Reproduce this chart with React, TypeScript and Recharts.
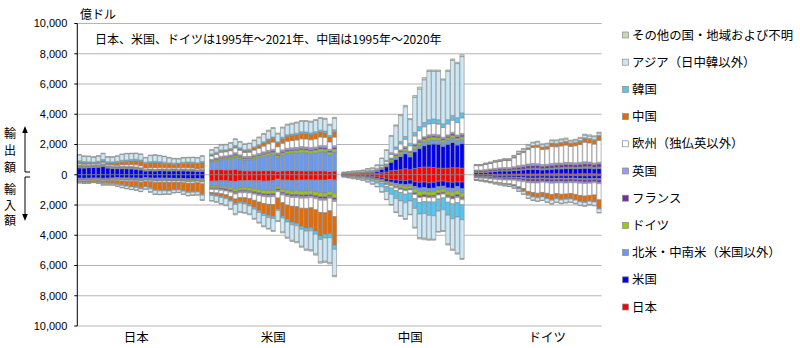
import React from 'react';
import { BarChart, Bar, XAxis, YAxis, CartesianGrid } from 'recharts';

// ---------- categories ----------
const years1995to2021 = [1995,1996,1997,1998,1999,2000,2001,2002,2003,2004,2005,2006,2007,2008,2009,2010,2011,2012,2013,2014,2015,2016,2017,2018,2019,2020,2021];
const years1995to2020 = [1995,1996,1997,1998,1999,2000,2001,2002,2003,2004,2005,2006,2007,2008,2009,2010,2011,2012,2013,2014,2015,2016,2017,2018,2019,2020];

const partnerKeys = ['jp','us','na','de','fr','uk','eu','cn','kr','as','ot'];
const partnerNames = ['日本','米国','北米・中南米（米国以外）','ドイツ','フランス','英国','欧州（独仏英以外）','中国','韓国','アジア（日中韓以外）','その他の国・地域および不明'];
const partnerColors = ['#ff0000','#0000ee','#6a9af0','#99cc00','#7030a0','#9a9af0','#ffffff','#e36c0a','#55c6f2','#cce8f6','#c8d8b4'];

const yTicks = [-10000,-8000,-6000,-4000,-2000,0,2000,4000,6000,8000,10000];
const titleText = '日本、米国、ドイツは1995年～2021年、中国は1995年～2020年';
const unitText = '億ドル';

// ---------- Japan (億ドル) ----------
const jpEx_us = [450,440,470,480,500,540,440,420,400,400,400,390,360,320,240,260,250,270,260,250,260,260,260,250,240,220,230];
const jpEx_na = [70,60,60,60,60,70,60,55,50,55,60,65,65,60,45,50,50,55,55,55,60,55,55,55,55,45,55];
const jpEx_de = [60,55,50,45,50,55,45,45,45,50,45,45,45,40,30,30,35,30,30,30,25,25,30,30,30,25,30];
const jpEx_fr = [20,20,18,18,18,20,18,16,16,18,16,16,16,15,12,12,12,12,12,12,10,10,12,12,12,10,12];
const jpEx_uk = [40,40,38,38,38,40,35,30,30,32,30,30,30,25,20,20,20,20,20,20,20,20,20,20,20,18,20];
const jpEx_eu = [90,85,80,80,85,100,85,85,95,110,115,125,140,140,100,100,110,100,95,90,85,90,95,100,95,85,90];
const jpEx_cn = [90,80,75,65,70,90,95,120,160,190,210,240,270,290,300,300,320,290,280,260,240,250,280,300,310,330,360];
const jpEx_kr = [100,90,70,50,70,90,80,85,90,100,100,100,100,90,80,90,90,85,80,70,65,65,70,70,70,65,75];
const jpEx_as = [390,350,350,330,344,390,320,314,340,388,414,389,380,368,298,404,404,394,368,328,290,274,288,288,304,314,356];
const jpEx_ot = [30,30,29,24,25,35,22,20,24,27,30,30,34,32,25,34,39,34,30,35,35,31,40,35,34,38,32];

const jpIm_us = [230,240,230,220,220,240,230,210,200,210,210,220,220,240,200,220,230,220,220,230,240,240,250,270,270,250,270];
const jpIm_na = [45,45,45,40,40,45,45,45,50,55,60,60,65,75,60,70,80,80,80,80,70,65,70,75,75,70,90];
const jpIm_de = [40,45,40,35,35,40,40,40,45,50,50,50,50,55,50,55,60,60,60,60,55,60,65,70,70,65,75];
const jpIm_fr = [20,20,20,18,20,20,20,20,22,22,22,22,22,25,22,25,28,28,28,28,25,28,30,30,30,28,30];
const jpIm_uk = [15,15,14,13,14,15,14,14,15,16,16,16,16,18,15,16,18,18,18,18,16,16,18,18,18,16,18];
const jpIm_eu = [45,50,50,45,50,55,55,55,60,65,70,70,75,80,75,80,90,95,95,95,90,95,100,105,105,100,120];
const jpIm_cn = [60,70,80,80,95,120,140,170,200,240,280,310,340,370,330,400,470,500,500,500,470,460,500,540,530,560,680];
const jpIm_kr = [40,40,35,30,35,45,40,40,45,55,55,55,55,60,50,60,65,65,60,60,50,50,55,60,55,55,70];
const jpIm_as = [40,40,40,35,55,90,85,85,110,135,150,170,170,180,150,210,240,235,220,210,170,150,190,210,190,190,310];
const jpIm_ot = [15,15,14,10,16,20,16,11,13,12,17,17,17,17,8,14,19,19,19,19,14,16,22,22,17,16,37];

// ---------- United States ----------
const usEx_jp = [330,340,340,310,320,350,300,260,250,260,260,270,270,270,230,260,270,280,270,260,250,250,250,260,250,220,240];
const usEx_na = [510,570,660,700,740,820,760,710,730,800,880,950,1010,1070,900,1060,1130,1160,1180,1230,1210,1170,1200,1260,1250,1090,1260];
const usEx_de = [70,75,85,90,95,110,100,90,90,100,110,120,140,150,130,140,150,150,160,170,170,170,180,190,190,170,200];
const usEx_fr = [45,50,55,60,60,70,65,55,55,60,60,65,75,80,75,75,80,80,80,85,85,85,90,100,100,90,100];
const usEx_uk = [70,75,85,90,95,110,100,90,90,100,100,110,120,120,110,110,120,120,120,120,120,120,120,130,130,110,120];
const usEx_eu = [210,230,260,270,280,310,290,270,280,310,340,380,430,470,410,440,470,470,490,510,530,520,530,560,560,490,570];
const usEx_cn = [65,70,75,80,80,90,100,110,130,150,170,200,230,250,250,300,330,330,350,360,350,340,360,330,290,320,360];
const usEx_kr = [80,85,80,50,60,75,70,65,65,70,70,80,85,85,70,95,100,100,100,110,110,110,120,120,120,110,120];
const usEx_as = [250,290,330,330,360,400,380,360,370,410,460,500,530,570,530,620,640,670,680,680,700,720,740,780,790,690,760];
const usEx_ot = [30,35,40,40,40,45,40,40,40,45,50,55,60,60,55,60,60,60,60,60,60,60,60,60,60,60,70];

const usIm_jp = [420,410,400,400,420,450,400,390,380,390,400,420,410,390,290,350,350,380,360,350,340,340,350,360,360,320,340];
const usIm_na = [330,340,370,390,430,500,470,470,490,540,590,620,640,650,500,620,680,700,700,740,730,720,770,830,840,780,900];
const usIm_de = [110,115,125,140,150,160,160,170,180,190,200,210,220,210,160,190,220,230,240,250,260,240,250,260,260,250,290];
const usIm_fr = [55,60,65,70,75,80,80,75,75,80,85,90,95,95,80,90,95,95,100,105,105,105,110,120,120,100,130];
const usIm_uk = [60,65,70,75,80,90,85,85,85,90,90,95,100,105,90,95,100,100,100,110,110,105,110,115,110,100,110];
const usIm_eu = [200,210,230,250,290,320,320,330,360,400,440,470,490,520,420,500,560,580,610,660,680,680,730,810,830,830,1000];
const usIm_cn = [130,150,170,190,220,260,270,320,380,460,560,660,730,780,720,880,960,1050,1100,1200,1300,1320,1400,1550,1420,1520,1870];
const usIm_kr = [70,70,70,70,85,110,100,100,110,130,130,130,140,140,110,140,160,170,170,190,200,200,210,230,240,260,290];
const usIm_as = [340,370,410,420,500,620,560,560,540,610,650,700,720,800,680,920,1010,1030,1050,1120,1200,1260,1310,1490,1540,1660,1740];
const usIm_ot = [25,30,40,45,50,60,55,50,50,60,55,55,55,60,50,65,75,75,70,75,75,80,80,85,80,80,80];

// ---------- China (1995-2020) ----------
const cnEx_jp = [45,50,55,55,60,75,80,100,140,190,260,300,330,400,330,420,480,520,510,480,440,430,440,470,460,440];
const cnEx_us = [30,35,45,50,60,80,90,130,220,340,560,720,880,990,850,1100,1250,1400,1500,1550,1580,1460,1570,1660,1500,1620];
const cnEx_na = [5,6,8,9,10,15,16,25,40,60,90,120,150,180,150,200,230,250,260,270,270,260,280,300,300,290];
const cnEx_de = [8,9,11,12,14,18,20,28,45,65,100,120,140,150,120,160,170,170,180,180,160,150,160,170,160,160];
const cnEx_fr = [4,5,6,6,7,9,10,13,20,30,45,55,65,70,60,80,90,90,90,90,90,80,90,100,100,110];
const cnEx_uk = [4,5,6,7,8,10,12,15,25,35,55,70,80,80,60,80,90,90,100,110,110,100,100,110,110,110];
const cnEx_eu = [14,16,20,22,26,35,40,55,100,150,230,300,390,480,350,520,600,650,720,720,700,640,720,800,820,1030];
const cnEx_kr = [10,12,14,14,16,22,25,35,60,80,120,150,170,180,150,240,270,280,280,290,290,250,280,300,320,330];
const cnEx_as = [45,57,68,78,89,124,145,234,430,670,1090,1400,1700,1970,1580,2320,2480,2830,3200,3150,3200,2900,3200,3650,3580,3720];
const cnEx_ot = [5,5,7,7,10,12,12,15,20,30,50,65,75,90,70,120,140,140,90,90,90,70,90,100,90,130];

const cnIm_jp = [40,50,60,70,80,100,120,150,210,280,310,350,370,380,350,450,500,480,530,500,430,420,480,500,480,480];
const cnIm_us = [20,25,35,40,50,60,80,95,120,160,180,220,250,280,270,330,370,360,380,390,370,340,390,400,300,440];
const cnIm_na = [5,7,10,12,15,20,25,30,40,60,70,90,110,130,130,180,230,240,230,230,200,190,230,250,270,300];
const cnIm_de = [10,14,17,20,25,35,45,55,80,100,110,130,150,170,160,230,270,250,230,240,210,200,250,270,270,260];
const cnIm_fr = [5,7,8,10,12,15,18,22,30,40,45,55,65,70,65,80,100,100,100,100,90,90,110,120,120,110];
const cnIm_uk = [4,5,6,6,7,8,9,11,14,17,19,22,25,28,26,35,40,40,44,50,45,40,50,60,65,66];
const cnIm_eu = [10,14,18,22,28,38,50,65,90,120,150,180,200,230,210,280,330,310,290,300,260,250,310,330,340,330];
const cnIm_kr = [20,27,35,40,53,70,90,130,210,330,410,520,560,570,520,640,760,780,880,900,800,780,850,980,950,990];
const cnIm_as = [31,46,66,74,92,122,170,226,336,520,680,900,980,1050,890,1250,1560,1640,1580,1560,1350,1390,1910,2020,2390,2560];
const cnIm_ot = [5,5,5,6,8,12,13,16,20,23,26,33,40,42,29,55,90,100,66,60,45,50,70,70,65,64];

// ---------- Germany ----------
const deEx_jp = [40,40,40,35,35,40,40,40,45,50,50,55,55,55,50,60,65,65,60,60,55,55,60,65,65,60,55];
const deEx_us = [110,110,130,150,180,200,210,210,230,250,270,300,310,300,270,280,300,320,330,350,360,350,360,370,360,340,360];
const deEx_na = [30,30,35,40,40,45,45,45,50,55,60,65,70,75,70,75,80,85,85,90,90,90,95,100,100,95,100];
const deEx_fr = [80,80,90,95,100,100,105,100,120,140,150,170,180,180,170,170,180,180,180,190,170,170,180,190,190,170,200];
const deEx_uk = [50,50,60,65,70,75,80,80,90,110,115,125,130,125,110,110,120,120,120,130,130,130,130,130,120,110,110];
const deEx_eu = [290,290,330,360,410,420,460,460,580,730,820,950,1050,1090,1000,1000,1120,1080,1130,1140,1070,1120,1170,1300,1270,1250,1450];
const deEx_cn = [20,20,25,25,25,30,35,40,50,65,70,90,100,110,130,160,190,190,200,210,190,200,220,240,240,260,280];
const deEx_kr = [15,15,15,12,14,16,16,17,20,25,27,30,35,35,30,35,40,40,40,40,40,40,45,50,50,50,50];
const deEx_as = [35,35,35,40,50,45,50,50,70,110,125,170,180,200,160,150,160,170,170,160,130,140,150,170,160,180,150];
const deEx_ot = [10,10,10,18,26,19,19,18,25,35,43,55,50,55,60,50,55,60,65,60,55,55,60,75,85,65,65];

const deIm_jp = [30,35,40,40,45,50,50,50,55,60,70,80,80,80,70,80,80,75,70,70,60,65,70,75,70,65,70];
const deIm_us = [70,75,80,90,100,110,110,110,110,120,130,150,150,150,140,150,160,160,160,170,170,170,180,190,190,180,200];
const deIm_na = [15,17,20,20,25,25,30,30,30,35,40,50,50,55,50,55,60,55,55,55,55,55,60,65,60,60,70];
const deIm_fr = [55,60,65,70,75,80,85,90,100,120,130,150,160,160,150,160,170,160,160,160,150,150,160,160,160,150,180];
const deIm_uk = [40,45,50,55,60,65,70,70,75,85,90,100,100,100,80,85,95,90,90,90,90,90,90,90,85,80,70];
const deIm_eu = [110,125,145,165,190,200,230,250,290,370,450,570,640,680,680,700,740,700,760,730,720,770,820,830,800,800,1070];
const deIm_cn = [12,15,20,25,30,40,50,60,80,120,170,220,250,260,260,310,330,310,320,310,320,330,360,370,350,420,560];
const deIm_kr = [8,9,10,10,12,15,15,15,20,25,30,35,40,40,40,40,45,40,45,40,40,45,50,50,45,45,50];
const deIm_as = [30,32,40,50,65,80,90,100,120,150,170,200,210,220,220,230,240,225,235,220,210,230,230,230,220,230,230];
const deIm_ot = [5,5,6,7,8,10,10,10,12,14,16,18,20,20,18,20,22,20,22,20,20,22,24,25,24,24,30];

// ---------- assemble table ----------
type SeriesMap = Record<string, number[]>;
const reporters: { name: string; start: number; labelAt: number; years: number[]; exp: SeriesMap; imp: SeriesMap }[] = [
  { name: '日本', start: 0, labelAt: 12, years: years1995to2021,
    exp: { us: jpEx_us, na: jpEx_na, de: jpEx_de, fr: jpEx_fr, uk: jpEx_uk, eu: jpEx_eu, cn: jpEx_cn, kr: jpEx_kr, as: jpEx_as, ot: jpEx_ot },
    imp: { us: jpIm_us, na: jpIm_na, de: jpIm_de, fr: jpIm_fr, uk: jpIm_uk, eu: jpIm_eu, cn: jpIm_cn, kr: jpIm_kr, as: jpIm_as, ot: jpIm_ot } },
  { name: '米国', start: 28, labelAt: 13, years: years1995to2021,
    exp: { jp: usEx_jp, na: usEx_na, de: usEx_de, fr: usEx_fr, uk: usEx_uk, eu: usEx_eu, cn: usEx_cn, kr: usEx_kr, as: usEx_as, ot: usEx_ot },
    imp: { jp: usIm_jp, na: usIm_na, de: usIm_de, fr: usIm_fr, uk: usIm_uk, eu: usIm_eu, cn: usIm_cn, kr: usIm_kr, as: usIm_as, ot: usIm_ot } },
  { name: '中国', start: 56, labelAt: 14, years: years1995to2020,
    exp: { jp: cnEx_jp, us: cnEx_us, na: cnEx_na, de: cnEx_de, fr: cnEx_fr, uk: cnEx_uk, eu: cnEx_eu, kr: cnEx_kr, as: cnEx_as, ot: cnEx_ot },
    imp: { jp: cnIm_jp, us: cnIm_us, na: cnIm_na, de: cnIm_de, fr: cnIm_fr, uk: cnIm_uk, eu: cnIm_eu, kr: cnIm_kr, as: cnIm_as, ot: cnIm_ot } },
  { name: 'ドイツ', start: 84, labelAt: 15, years: years1995to2021,
    exp: { jp: deEx_jp, us: deEx_us, na: deEx_na, fr: deEx_fr, uk: deEx_uk, eu: deEx_eu, cn: deEx_cn, kr: deEx_kr, as: deEx_as, ot: deEx_ot },
    imp: { jp: deIm_jp, us: deIm_us, na: deIm_na, fr: deIm_fr, uk: deIm_uk, eu: deIm_eu, cn: deIm_cn, kr: deIm_kr, as: deIm_as, ot: deIm_ot } },
];

const SLOT_COUNT = 111;
const rows: Record<string, any>[] = Array.from({ length: SLOT_COUNT }, (_, i) => ({ k: 's' + i }));
const slotLabels: Record<string, string> = {};
reporters.forEach((r) => {
  slotLabels['s' + (r.start + r.labelAt)] = r.name;
  r.years.forEach((yr, y) => {
    const row = rows[r.start + y];
    row.year = yr;
    row.reporter = r.name;
    partnerKeys.forEach((p) => {
      if (r.exp[p]) row['e_' + p] = r.exp[p][y];
      if (r.imp[p]) row['i_' + p] = -r.imp[p][y];
    });
  });
});

// ---------- layout ----------
const W = 800;
const H = 348;
const PLOT_LEFT = 77.3;
const PLOT_RIGHT = 601.6;
const PLOT_TOP = 23.5;
const PLOT_BOTTOM = 326;
const BAND = (PLOT_RIGHT - PLOT_LEFT) / SLOT_COUNT;
const CJK = '"Noto Sans CJK JP", "Noto Sans CJK SC", sans-serif';
const LATIN = '"Liberation Sans", Arial, sans-serif';

const fmtY = (v: number) => Math.abs(v).toLocaleString('en-US');

const CategoryTick = (props: any) => {
  const { x, y, payload } = props;
  const label = slotLabels[payload?.value];
  if (!label) return <g />;
  return (
    <text x={x} y={y + 14} textAnchor="middle" fontSize={12.5} fontFamily={CJK} fill="#000">
      {label}
    </text>
  );
};

const legendOrder = [10, 9, 8, 7, 6, 5, 4, 3, 2, 1, 0];

export default function App() {
  return (
    <div style={{ position: 'absolute', left: 0, top: 0, width: W, height: H, background: '#fff' }}>
      <BarChart
        width={W}
        height={H}
        data={rows}
        margin={{ top: PLOT_TOP, right: W - PLOT_RIGHT, bottom: 0, left: 0 }}
        barCategoryGap={0}
        barGap={0}
        barSize={BAND}
        stackOffset="sign"
      >
        <CartesianGrid horizontal vertical={false} stroke="#b4b4b4" strokeWidth={1} />
        <XAxis
          dataKey="k"
          type="category"
          interval={0}
          axisLine={false}
          tickLine={false}
          tickSize={0}
          height={H - PLOT_BOTTOM}
          tick={<CategoryTick />}
        />
        <YAxis
          type="number"
          domain={[-10000, 10000]}
          ticks={yTicks}
          allowDataOverflow
          width={PLOT_LEFT}
          tickFormatter={fmtY}
          axisLine={{ stroke: '#000', strokeWidth: 1 }}
          tickLine={{ stroke: '#000' }}
          tickSize={3}
          tickMargin={7}
          tick={{ fontSize: 11, fill: '#000', fontFamily: LATIN }}
        />
        {partnerKeys.map((p, i) => (
          <Bar
            key={'e_' + p}
            dataKey={'e_' + p}
            name={partnerNames[i]}
            stackId="trade"
            fill={partnerColors[i]}
            stroke="#888888"
            strokeWidth={0.6}
            isAnimationActive={false}
          />
        ))}
        {partnerKeys.map((p, i) => (
          <Bar
            key={'i_' + p}
            dataKey={'i_' + p}
            name={partnerNames[i]}
            stackId="trade"
            fill={partnerColors[i]}
            stroke="#888888"
            strokeWidth={0.6}
            isAnimationActive={false}
          />
        ))}
      </BarChart>
      <svg
        width={W}
        height={H}
        style={{ position: 'absolute', left: 0, top: 0, pointerEvents: 'none' }}
      >
        <text x={80} y={19} fontSize={12} fontFamily={CJK} fill="#000">{unitText}</text>
        <text x={95} y={44} fontSize={12} fontFamily={CJK} fill="#000">{titleText}</text>
        {['輸', '出', '額'].map((c, i) => (
          <text key={'ex' + i} x={10} y={138 + i * 17} fontSize={12} fontFamily={CJK} textAnchor="middle" fill="#000">{c}</text>
        ))}
        {['輸', '入', '額'].map((c, i) => (
          <text key={'im' + i} x={10} y={194 + i * 15.5} fontSize={12} fontFamily={CJK} textAnchor="middle" fill="#000">{c}</text>
        ))}
        <polyline points="25,132 25,172 30,172" fill="none" stroke="#000" strokeWidth={1} />
        <polygon points="25,126 22.2,133 27.8,133" fill="#000" />
        <polyline points="30,177 25,177 25,215" fill="none" stroke="#000" strokeWidth={1} />
        <polygon points="25,221 22.2,214 27.8,214" fill="#000" />
        {legendOrder.map((pi, row) => {
          const cy = 35 + row * 27.2;
          return (
            <g key={'lg' + pi}>
              <rect x={622.5} y={cy - 3} width={6} height={6} fill={partnerColors[pi]} stroke="#8c8c8c" strokeWidth={0.7} />
              <text x={632} y={cy + 4.5} fontSize={12.4} fontFamily={CJK} fill="#000">{partnerNames[pi]}</text>
            </g>
          );
        })}
      </svg>
    </div>
  );
}
